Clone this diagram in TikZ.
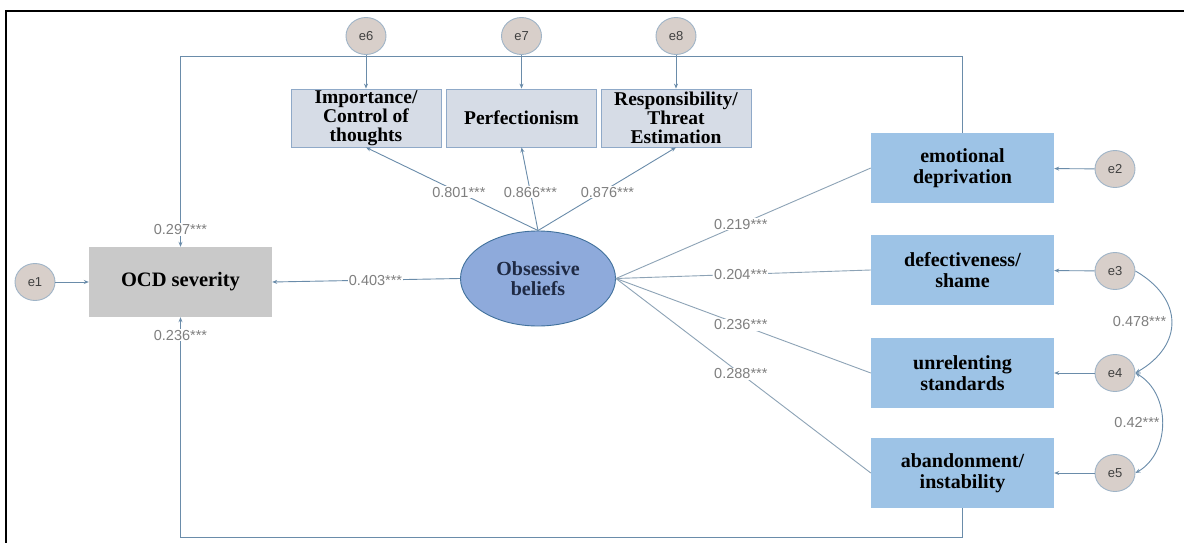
\documentclass[tikz,border=0pt]{standalone}
\usepackage{fontspec}
\setmainfont{Liberation Serif}
\newfontfamily\numfont{Liberation Sans}
\usetikzlibrary{arrows.meta,shapes.geometric}
\definecolor{linec}{HTML}{6A8CAA}
\definecolor{lightlinec}{HTML}{8DA3B6}
\definecolor{topfill}{HTML}{D6DCE6}
\definecolor{topdraw}{HTML}{8FA9C8}
\definecolor{rightfill}{HTML}{9DC3E6}
\definecolor{ocdfill}{HTML}{C9C9C9}
\definecolor{ellfill}{HTML}{8EAADB}
\definecolor{elldraw}{HTML}{41719C}
\definecolor{efill}{HTML}{D8CFCA}
\definecolor{edraw}{HTML}{9FB4C7}
\definecolor{numc}{HTML}{7F7F7F}
\definecolor{ellc}{HTML}{1F2A44}
\begin{document}
\begin{tikzpicture}[x=1pt,y=-1pt,
  topbox/.style={draw=topdraw,fill=topfill,line width=0.8pt,minimum width=150pt,minimum height=58pt,inner sep=0pt,align=center,font=\bfseries\fontsize{19.5}{19}\selectfont},
  rightbox/.style={fill=rightfill,minimum width=183pt,minimum height=70pt,inner sep=0pt,align=center,font=\bfseries\fontsize{20}{21}\selectfont},
  ocdbox/.style={fill=ocdfill,minimum width=183pt,minimum height=70pt,inner sep=0pt,align=center,font=\bfseries\fontsize{20.5}{22}\selectfont},
  latent/.style={ellipse,draw=elldraw,fill=ellfill,line width=0.9pt,minimum width=155pt,minimum height=95pt,inner sep=0pt,align=center,text=ellc,font=\bfseries\fontsize{20}{20.5}\selectfont},
  errc/.style={ellipse,draw=edraw,fill=efill,line width=0.9pt,minimum width=40pt,minimum height=37pt,inner sep=0pt,font=\numfont\fontsize{13}{15}\selectfont,text=black!75},
  conn/.style={draw=linec,line width=0.9pt},
  plain/.style={draw=lightlinec,line width=0.9pt},
  arr/.style={conn,-{Stealth[length=5pt,width=4pt]}},
  coef/.style={fill=white,inner sep=1pt,text=numc,font=\numfont\fontsize{14.5}{16}\selectfont}
]
\useasboundingbox (0,0) rectangle (1184,543);
\fill[white] (0,0) rectangle (1184,543);
\draw[line width=2pt,black] (6,543) -- (6,11) -- (1184,11);

% nodes
\node[topbox] (imp) at (366,118) {Importance/\\Control of\\thoughts};
\node[topbox] (perf) at (521.5,118) {Perfectionism};
\node[topbox] (resp) at (676,118) {Responsibility/\\Threat\\Estimation};

\node[rightbox] (ed) at (962.5,168) {emotional\\deprivation};
\node[rightbox] (def) at (962.5,270) {defectiveness/\\shame};
\node[rightbox] (unr) at (962.5,373) {unrelenting\\standards};
\node[rightbox] (ab) at (962.5,473) {abandonment/\\instability};

\node[ocdbox] (ocd) at (180.5,282) {OCD severity};
\node[latent] (ob) at (538,278.5) {Obsessive\\beliefs};

\node[errc] (e1) at (35,282) {e1};
\node[errc] (e2) at (1115,169) {e2};
\node[errc] (e3) at (1115,271) {e3};
\node[errc] (e4) at (1115,373) {e4};
\node[errc] (e5) at (1115,473) {e5};
\node[errc] (e6) at (366,36) {e6};
\node[errc] (e7) at (521.5,36) {e7};
\node[errc] (e8) at (676,36) {e8};

\coordinate (ytop) at (0,56);
\coordinate (ybot) at (0,537);

% error arrows
\draw[arr] (e1) -- (ocd);
\draw[arr] (e2) -- (ed);
\draw[arr] (e3) -- (def);
\draw[arr] (e4) -- (unr);
\draw[arr] (e5) -- (ab);
\draw[arr] (e6) -- (imp);
\draw[arr] (e7) -- (perf);
\draw[arr] (e8) -- (resp);

% loadings on top indicators
\draw[arr] (ob.north) -- node[coef,pos=0.46]{0.801***} (imp.south);
\draw[arr] (ob.north) -- node[coef,pos=0.46]{0.866***} (perf.south);
\draw[arr] (ob.north) -- node[coef,pos=0.46,xshift=6pt]{0.876***} (resp.south);

% paths to right boxes
\draw[plain] (ob.east) -- node[coef,pos=0.49]{0.219***} (ed.west);
\draw[plain] (ob.east) -- node[coef,pos=0.49]{0.204***} (def.west);
\draw[plain] (ob.east) -- node[coef,pos=0.49]{0.236***} (unr.west);
\draw[plain] (ob.east) -- node[coef,pos=0.49]{0.288***} (ab.west);

% ob -> ocd
\draw[arr] (ob.west) -- node[coef,pos=0.45]{0.403***} (ocd.east);

% loops
\draw[arr] (ed.north) -- (ed.north |- ytop) -| node[coef,pos=0.955]{0.297***} (ocd.north);
\draw[arr] (ab.south) -- (ab.south |- ybot) -| node[coef,pos=0.959]{0.236***} (ocd.south);

% covariances
\draw[arr] (e3.east) to[out=-30,in=30,looseness=1.4] node[coef,pos=0.5,left=4pt]{0.478***} (e4.east);
\draw[conn,{Stealth[length=5pt,width=4pt]}-{Stealth[length=5pt,width=4pt]}] (e4.east) to[out=-30,in=30,looseness=1.05] node[coef,pos=0.5,left=1pt]{0.42***} (e5.east);
\end{tikzpicture}
\end{document}
